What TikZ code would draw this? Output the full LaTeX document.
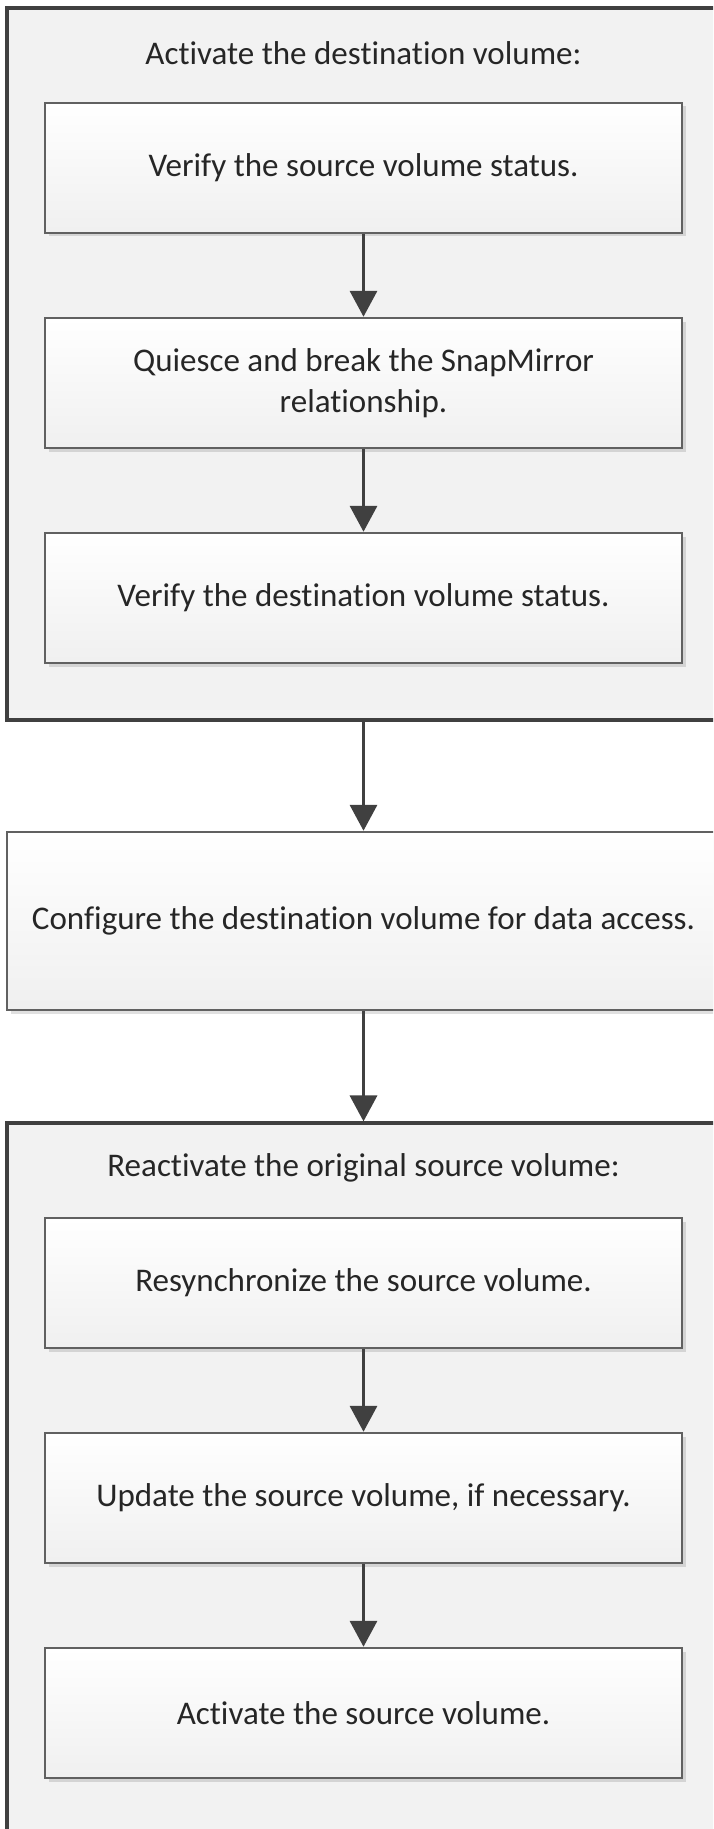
\documentclass[tikz,border=0pt]{standalone}
\usepackage{fontspec}
\setmainfont{Carlito}[Ligatures={NoCommon,NoContextual}]
\usepackage{tikz}
\usetikzlibrary{arrows.meta, shadows}

\begin{document}
\begin{tikzpicture}[
    group/.style={rectangle, draw=black!75, line width=1.8pt, fill=black!5, minimum width=14.26cm, minimum height=14.24cm},
    title/.style={font=\fontsize{18.8}{23}\selectfont, text=black!85},
    stepbox/.style={rectangle, draw=black!62, line width=1.4pt, top color=white, bottom color=black!6, minimum width=12.74cm, minimum height=2.6cm, align=center, font=\fontsize{18.8}{23}\selectfont, text=black!85, drop shadow={shadow xshift=0.07cm, shadow yshift=-0.07cm, fill=black, opacity=0.12}},
    widebox/.style={stepbox, minimum width=14.26cm, minimum height=3.56cm},
    arrow/.style={-{Triangle[length=5.2mm, width=5.4mm]}, line width=2pt, black!75}
]

\clip (0, 0) rectangle (14.26, -36.58);

% First group
\node[group] (grpdest) at (7.27, -7.28) {};
\node[title] (ttldest) at (7.27, -1.06) {Activate the destination volume:};
\node[stepbox] (srcstat) at (7.27, -3.36) {Verify the source volume status.};
\node[stepbox] (quiesce) at (7.27, -7.66) {Quiesce and break the SnapMirror\\relationship.};
\node[stepbox] (dststat) at (7.27, -11.96) {Verify the destination volume status.};

% Middle step
\node[widebox] (config) at (7.27, -18.42) {Configure the destination volume for data access.};

% Second group
\node[group] (grpsrc) at (7.27, -29.58) {};
\node[title] (ttlsrc) at (7.27, -23.36) {Reactivate the original source volume:};
\node[stepbox] (resync) at (7.27, -25.66) {Resynchronize the source volume.};
\node[stepbox] (update) at (7.27, -29.96) {Update the source volume, if necessary.};
\node[stepbox] (actsrc) at (7.27, -34.26) {Activate the source volume.};

% Arrows
\draw[arrow] (srcstat) -- (quiesce);
\draw[arrow] (quiesce) -- (dststat);
\draw[arrow] (grpdest) -- (config);
\draw[arrow] (config) -- (grpsrc);
\draw[arrow] (resync) -- (update);
\draw[arrow] (update) -- (actsrc);

\end{tikzpicture}
\end{document}
